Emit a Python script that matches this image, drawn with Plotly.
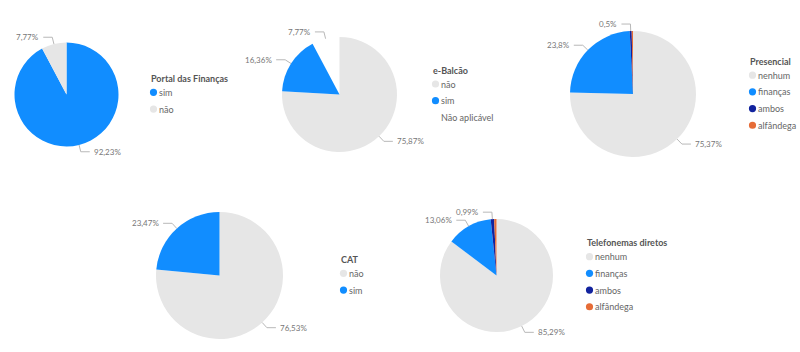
import math
import plotly.graph_objects as go

W, H = 800, 352

# ---- data ----
portal_labels = ["sim", "não"]
portal_values = [92.23, 7.77]

ebalcao_labels = ["não", "sim", "Não aplicável"]
ebalcao_values = [75.87, 16.36, 7.77]

presencial_labels = ["nenhum", "finanças", "ambos", "alfândega"]
presencial_values = [75.37, 23.8, 0.5, 0.33]

cat_labels = ["não", "sim"]
cat_values = [76.53, 23.47]

tel_labels = ["nenhum", "finanças", "ambos", "alfândega"]
tel_values = [85.29, 13.06, 0.99, 0.66]

# legend order per chart (as in the reference)
portal_legend = ["sim", "não"]
ebalcao_legend = ["não", "sim", "Não aplicável"]
presencial_legend = ["nenhum", "finanças", "ambos", "alfândega"]
cat_legend = ["não", "sim"]
tel_legend = ["nenhum", "finanças", "ambos", "alfândega"]

# data labels hidden (overlap) per chart
hidden_labels = {"Presencial": ["alfândega"], "Telefonemas diretos": ["alfândega"]}

# ---- styles ----
COLORS = {
    "sim": "#118DFF",
    "não": "#E6E6E6",
    "Não aplicável": "rgba(255,255,255,0)",
    "nenhum": "#E6E6E6",
    "finanças": "#118DFF",
    "ambos": "#12239E",
    "alfândega": "#E66C37",
}
FONT = "Segoe UI, Lato, Liberation Sans, sans-serif"
LINE = "#B8B8B8"

# layout in pixels: pie centre, radius, legend left
charts = [
    dict(title="Portal das Finanças", labels=portal_labels, values=portal_values,
         legend=portal_legend, cx=66.5, cy=94.5, r=52, lx=150),
    dict(title="e-Balcão", labels=ebalcao_labels, values=ebalcao_values,
         legend=ebalcao_legend, cx=339.5, cy=94.5, r=57.5, lx=432),
    dict(title="Presencial", labels=presencial_labels, values=presencial_values,
         legend=presencial_legend, cx=633, cy=94, r=63, lx=749),
    dict(title="CAT", labels=cat_labels, values=cat_values,
         legend=cat_legend, cx=219.5, cy=275.5, r=63.5, lx=340),
    dict(title="Telefonemas diretos", labels=tel_labels, values=tel_values,
         legend=tel_legend, cx=496.5, cy=275.5, r=56.5, lx=586),
]
TITLE_GAP = 14.0
ITEM_GAP = 16.7
DOT_R = 3.6


def px(x):
    return x / W


def py(y):
    return 1 - y / H


def fmt(v):
    s = f"{v:.2f}".rstrip("0").rstrip(".")
    return s.replace(".", ",") + "%"


fig = go.Figure()
shapes = []
annotations = []

for i, c in enumerate(charts):
    cx, cy, r = c["cx"], c["cy"], c["r"]
    fig.add_trace(go.Pie(
        labels=c["labels"], values=c["values"],
        sort=False, direction="clockwise", rotation=0,
        marker=dict(colors=[COLORS[l] for l in c["labels"]], line=dict(width=0)),
        textinfo="none", hoverinfo="label+percent",
        domain=dict(x=[px(cx - r), px(cx + r)], y=[py(cy + r), py(cy - r)]),
        showlegend=False, name=c["title"],
    ))

    # data labels with leader lines
    total = sum(c["values"])
    cum = 0.0
    for lab, v in zip(c["labels"], c["values"]):
        mid = (cum + v / 2) / total
        cum += v
        if lab in hidden_labels.get(c["title"], []):
            continue
        th = 2 * math.pi * mid
        ux, uy = math.sin(th), -math.cos(th)
        p0 = (cx + r * ux, cy + r * uy)
        e = (cx + (r + 7) * ux, cy + (r + 7) * uy)
        s = 1 if ux >= 0 else -1
        h = (e[0] + s * 9, e[1])
        for a, b in ((p0, e), (e, h)):
            shapes.append(dict(type="line", xref="paper", yref="paper",
                               x0=px(a[0]), y0=py(a[1]), x1=px(b[0]), y1=py(b[1]),
                               line=dict(color=LINE, width=1)))
        annotations.append(dict(
            x=px(h[0] + s * 2), y=py(h[1]), xref="paper", yref="paper",
            text=fmt(v), showarrow=False,
            xanchor="left" if s > 0 else "right", yanchor="middle",
            font=dict(size=8, color="#777777", family=FONT),
        ))

    # legend (title + dot + label), vertically centred on the pie
    n = len(c["legend"])
    ty = cy - (TITLE_GAP + (n - 1) * ITEM_GAP) / 2 - 0.8
    lx = c["lx"]
    annotations.append(dict(
        x=px(lx - 1), y=py(ty), xref="paper", yref="paper", text=f"<b>{c['title']}</b>",
        showarrow=False, xanchor="left", yanchor="middle",
        font=dict(size=9, color="#555555", family=FONT),
    ))
    for k, lab in enumerate(c["legend"]):
        iy = ty + TITLE_GAP + k * ITEM_GAP
        shapes.append(dict(type="circle", xref="paper", yref="paper",
                           x0=px(lx + 3.5 - DOT_R), x1=px(lx + 3.5 + DOT_R),
                           y0=py(iy + DOT_R), y1=py(iy - DOT_R),
                           fillcolor=COLORS[lab], line=dict(width=0)))
        annotations.append(dict(
            x=px(lx + 7), y=py(iy), xref="paper", yref="paper", text=lab,
            showarrow=False, xanchor="left", yanchor="middle",
            font=dict(size=9, color="#666666", family=FONT),
        ))

fig.update_layout(
    width=W, height=H, autosize=False,
    margin=dict(l=0, r=0, t=0, b=0, autoexpand=False),
    paper_bgcolor="white", plot_bgcolor="white",
    separators=",.",
    showlegend=False,
    shapes=shapes, annotations=annotations,
    font=dict(family=FONT),
)

fig.write_html("out.html")
